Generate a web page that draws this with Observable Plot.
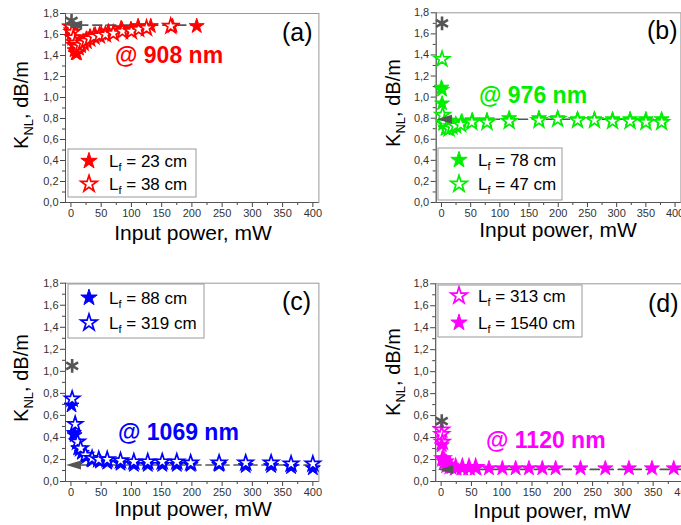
<!DOCTYPE html>
<html><head><meta charset="utf-8">
<script src="https://cdn.jsdelivr.net/npm/d3@7"></script>
<script src="https://cdn.jsdelivr.net/npm/@observablehq/plot@0.6"></script>
<style>
body{margin:0;background:#fff}
#fig{position:relative;width:681px;height:525px;overflow:hidden;background:#fff}
#fig svg{position:absolute}
</style>
</head><body><div id="fig"></div>
<script>
// ---- tick values ----
const xTicks = [0, 50, 100, 150, 200, 250, 300, 350, 400];
const xMinor = [25, 75, 125, 175, 225, 275, 325, 375];
const yTicks = [0, 0.2, 0.4, 0.6, 0.8, 1.0, 1.2, 1.4, 1.6, 1.8];
const yMinor = [0.1, 0.3, 0.5, 0.7, 0.9, 1.1, 1.3, 1.5, 1.7];

// ---- panel (a) 908 nm ----
const a23 = [[0,1.64],[2,1.57],[4,1.5],[6,1.45],[8,1.42],[10,1.42],[13,1.47],[17,1.5],[21,1.53],[26,1.56],[32,1.58],[40,1.6],[50,1.61],[62,1.63],[83,1.66],[99,1.65],[111,1.68],[132,1.68],[168,1.68],[208,1.68]];
const a38 = [[0,1.67],[2,1.62],[4,1.57],[7,1.52],[11,1.48],[15,1.5],[20,1.52],[25,1.54],[31,1.56],[38,1.58],[47,1.59],[57,1.6],[70,1.61],[85,1.63],[100,1.63],[112,1.65],[125,1.66],[165,1.68]];
const aAst = [[1, 1.73]];
const aTri = [[9, 1.69]];
const aDash = [[13, 1.69], [219, 1.69]];

// ---- panel (b) 976 nm ----
const b78 = [[0,1.09],[1,1.07],[1,0.94],[3,0.75],[7,0.70],[11,0.71],[15,0.72],[20,0.73],[25,0.74],[35,0.77],[53,0.78],[78,0.78],[116,0.80],[167,0.80],[199,0.80],[233,0.79],[262,0.79],[293,0.79],[323,0.79],[350,0.79],[377,0.79]];
const b47 = [[1,1.36],[2,0.83],[5,0.76],[9,0.71],[13,0.70],[18,0.72],[24,0.73],[33,0.74],[52,0.76],[78,0.76],[116,0.77],[167,0.78],[199,0.79],[233,0.78],[262,0.78],[293,0.77],[323,0.77],[350,0.76],[377,0.76]];
const bAst = [[1, 1.70]];
const bTri = [[8, 0.79]];
const bDash = [[12, 0.79], [382, 0.79]];

// ---- panel (c) 1069 nm ----
const c88 = [[1,0.69],[5,0.44],[6,0.42],[12,0.3],[18,0.26],[25,0.22],[35,0.19],[48,0.18],[60,0.17],[82,0.16],[104,0.15],[127,0.15],[151,0.15],[175,0.15],[198,0.15],[245,0.15],[289,0.14],[331,0.14],[364,0.13],[400,0.12]];
const c319 = [[2,0.75],[7,0.52],[11,0.36],[16,0.3],[24,0.24],[35,0.21],[46,0.2],[60,0.2],[82,0.19],[104,0.18],[127,0.18],[151,0.18],[175,0.18],[198,0.17],[245,0.17],[289,0.17],[331,0.17],[364,0.16],[400,0.16]];
const cAst = [[2, 1.05]];
const cTri = [[7, 0.15]];
const cDash = [[15, 0.15], [405, 0.15]];

// ---- panel (d) 1120 nm ----
const d313 = [[1,0.47],[1,0.43],[2,0.36],[3,0.21],[6,0.18],[10,0.15],[15,0.14],[24,0.13],[35,0.13],[46,0.13],[57,0.13]];
const d1540 = [[1,0.33],[2,0.21],[4,0.2],[8,0.18],[12,0.15],[17,0.13],[24,0.12],[35,0.12],[46,0.12],[57,0.12],[79,0.12],[101,0.12],[123,0.12],[145,0.12],[167,0.12],[189,0.12],[230,0.12],[271,0.12],[310,0.12],[348,0.12],[384,0.12]];
const dAst = [[1, 0.55]];
const dTri = [[10, 0.11]];
const dDash = [[15, 0.11], [410, 0.11]];

const FONT = "Arial, 'Liberation Sans', sans-serif";
const fmt = d => d.toFixed(1).replace(".", ",");
const leftTri = {draw(ctx, size) {
  const r = Math.sqrt(size / 3);
  ctx.moveTo(-r * 1.4, 0); ctx.lineTo(r * 1.1, -r * 0.75); ctx.lineTo(r * 1.1, r * 0.75); ctx.closePath();
}};

const panels = [
  {left:0, top:0, width:340, height:260, mL:65, mR:21.6, mT:13, mB:58, color:"#ff0000",
   series:[{data:a23, filled:true, label:" = 23 cm"}, {data:a38, filled:false, label:" = 38 cm"}],
   ast:aAst, tri:aTri, dash:aDash,
   legend:{x:68, y:149, w:128, h:48, sx:89, tx:109, rows:[161, 184]},
   note:{text:"@ 908 nm", x:115, y:63}, tag:{text:"(a)", x:282, y:41},
   ylab:{x:28, y:105}, xlab:{x:193, y:240}},
  {left:340, top:0, width:341, height:260, mL:95.7, mR:0.6, mT:12.3, mB:58, color:"#00ee00",
   series:[{data:b78, filled:true, label:" = 78 cm"}, {data:b47, filled:false, label:" = 47 cm"}],
   ast:bAst, tri:bTri, dash:bDash,
   legend:{x:98, y:148, w:124, h:52, sx:119, tx:138, rows:[160, 184]},
   note:{text:"@ 976 nm", x:139, y:103}, tag:{text:"(b)", x:307, y:39},
   ylab:{x:60, y:103}, xlab:{x:218, y:237}},
  {left:0, top:260, width:340, height:265, mL:65, mR:21.6, mT:22.7, mB:44, color:"#0000ff",
   series:[{data:c88, filled:true, label:" = 88 cm"}, {data:c319, filled:false, label:" = 319 cm"}],
   ast:cAst, tri:cTri, dash:cDash,
   legend:{x:68, y:24, w:136, h:54, sx:89, tx:109, rows:[37.7, 62.7]},
   note:{text:"@ 1069 nm", x:118, y:180}, tag:{text:"(c)", x:282, y:50},
   ylab:{x:28, y:118}, xlab:{x:193, y:256}},
  {left:340, top:260, width:362, height:265, mL:95.2, mR:13, mT:23.3, mB:44, color:"#ff00ff",
   series:[{data:d313, filled:false, label:" = 313 cm"}, {data:d1540, filled:true, label:" = 1540 cm"}],
   ast:dAst, tri:dTri, dash:dDash,
   legend:{x:98, y:25, w:144, h:52, sx:119, tx:138, rows:[35.7, 62.7]},
   note:{text:"@ 1120 nm", x:146, y:188}, tag:{text:"(d)", x:308, y:52},
   ylab:{x:60, y:112}, xlab:{x:212, y:258}}
];

const fig = document.getElementById("fig");
const R = 4.7;
const starSize = Math.PI * R * R;

for (const p of panels) {
  const seriesMarks = p.series.map(s => Plot.dot(s.data, {
    x: d => d[0], y: d => d[1], symbol: "star", r: R,
    fill: s.filled ? p.color : "#ffffff", stroke: p.color, strokeWidth: s.filled ? 1 : 1.7
  }));
  const svg = Plot.plot({
    width: p.width, height: p.height,
    marginLeft: p.mL, marginRight: p.mR, marginTop: p.mT, marginBottom: p.mB,
    x: {domain: [-9, 410]},
    y: {domain: [0, 1.8]},
    style: {fontFamily: FONT, fontSize: "11px", color: "#333", background: "transparent", overflow: "visible"},
    marks: [
      Plot.frame({stroke: "#999"}),
      Plot.axisY({ticks: yTicks, tickSize: 5, tickPadding: 2, tickFormat: fmt, label: null, fontSize: 11, stroke: "#444"}),
      Plot.axisY({ticks: yMinor, tickSize: 3, label: null, stroke: "#444", fill: "none"}),
      Plot.axisX({ticks: xTicks, tickSize: 5, tickPadding: 2, tickFormat: d => String(d), label: null, fontSize: 11, stroke: "#444"}),
      Plot.axisX({ticks: xMinor, tickSize: 3, label: null, stroke: "#444", fill: "none"}),
      Plot.ruleX([-9], {stroke: "#555"}),
      Plot.ruleY([0], {stroke: "#555"}),
      Plot.line(p.dash, {x: d => d[0], y: d => d[1], stroke: "#555", strokeWidth: 1.7, strokeDasharray: "9,5"}),
      ...seriesMarks,
      Plot.dot(p.tri, {x: d => d[0], y: d => d[1], symbol: leftTri, r: 4.5, fill: "#555", stroke: "#555"}),
      Plot.dot(p.ast, {x: d => d[0], y: d => d[1], symbol: "asterisk", r: 6.5, stroke: "#555", strokeWidth: 2.6})
    ]
  });
  svg.style.left = p.left + "px";
  svg.style.top = p.top + "px";
  fig.appendChild(svg);

  const g = d3.select(svg).append("g").attr("font-family", FONT).attr("text-anchor", "start");
  // legend
  const L = p.legend;
  g.append("rect").attr("x", L.x).attr("y", L.y).attr("width", L.w).attr("height", L.h)
    .attr("fill", "#fff").attr("stroke", "#999").attr("stroke-width", 1);
  p.series.forEach((s, i) => {
    g.append("path").attr("d", d3.symbol(d3.symbolStar, starSize * 1.2)())
      .attr("transform", `translate(${L.sx},${L.rows[i]})`)
      .attr("fill", s.filled ? p.color : "#fff").attr("stroke", p.color).attr("stroke-width", s.filled ? 1 : 1.7);
    const t = g.append("text").attr("x", L.tx).attr("y", L.rows[i] + 6).attr("font-size", 17).attr("fill", "#000");
    t.append("tspan").text("L");
    t.append("tspan").attr("font-size", 11).attr("dy", 4).text("f");
    t.append("tspan").attr("dy", -4).text(s.label);
  });
  // annotation
  g.append("text").attr("x", p.note.x).attr("y", p.note.y).attr("font-size", 23).attr("font-weight", "bold")
    .attr("fill", p.color).text(p.note.text);
  g.append("text").attr("x", p.tag.x).attr("y", p.tag.y).attr("font-size", 25).attr("fill", "#000").text(p.tag.text);
  // axis labels
  const yl = g.append("text").attr("transform", `translate(${p.ylab.x},${p.ylab.y}) rotate(-90)`)
    .attr("text-anchor", "middle").attr("font-size", 20).attr("fill", "#000");
  yl.append("tspan").text("K");
  yl.append("tspan").attr("font-size", 13).attr("dy", 5).text("NL");
  yl.append("tspan").attr("dy", -5).text(", dB/m");
  g.append("text").attr("x", p.xlab.x).attr("y", p.xlab.y).attr("text-anchor", "middle")
    .attr("font-size", 21).attr("fill", "#000").text("Input power, mW");
}
</script>
</body></html>
